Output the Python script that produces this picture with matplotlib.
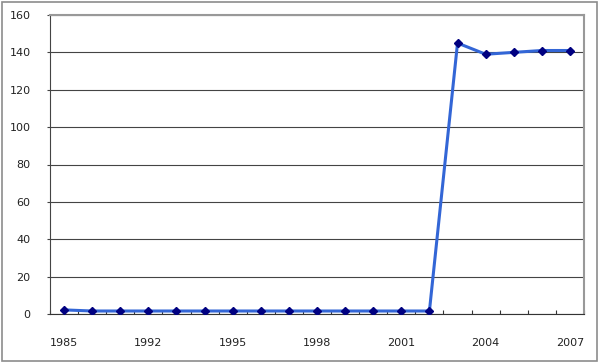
import matplotlib
matplotlib.use("Agg")
import matplotlib.pyplot as plt
from matplotlib.patches import Rectangle

years = [1985] + list(range(1990, 2008))
values = [2.2, 1.6, 1.6, 1.6, 1.6, 1.6, 1.6, 1.6, 1.6, 1.6, 1.6, 1.6, 1.6, 1.6,
          145, 139, 140, 141, 141]
label_years = [1985, 1992, 1995, 1998, 2001, 2004, 2007]
y_ticks = [0, 20, 40, 60, 80, 100, 120, 140, 160]

fig = plt.figure(figsize=(6, 3.62), dpi=100)
ax = fig.add_axes([50 / 600, 1 - 314 / 362, 534 / 600, 299 / 362])

# outer chart border
fig.patches.append(Rectangle((0.003, 0.004), 0.992, 0.99, transform=fig.transFigure,
                             fill=False, edgecolor="#8c8c8c", linewidth=1.2))

pos = list(range(len(years)))
ax.plot(pos, values, color="#3366d6", linewidth=2.2, marker="D", markersize=4.5,
        markerfacecolor="#000080", markeredgecolor="#000080", zorder=3)

ax.set_xlim(-0.5, len(years) - 0.5)
ax.set_ylim(0, 160)
ax.set_yticks(y_ticks)
ax.set_yticklabels([str(v) for v in y_ticks], fontsize=8, color="#222222")
ax.tick_params(axis="y", length=2, pad=12, color="#444444")

# boundary ticks between categories, labels centered on categories
ax.set_xticks([p - 0.5 for p in pos] + [len(years) - 0.5])
ax.set_xticklabels([])
ax.tick_params(axis="x", which="major", direction="in", length=3, color="#333333")
ax.set_xticks([years.index(y) for y in label_years], minor=True)
ax.set_xticklabels([str(y) for y in label_years], minor=True, fontsize=8, color="#222222")
ax.tick_params(axis="x", which="minor", length=0, pad=17)

ax.grid(axis="y", color="#444444", linewidth=0.8)
ax.set_axisbelow(True)
ax.spines["top"].set_color("#999999")
ax.spines["top"].set_linewidth(1.5)
ax.spines["right"].set_color("#999999")
ax.spines["right"].set_linewidth(1.5)
ax.spines["left"].set_color("#444444")
ax.spines["bottom"].set_color("#333333")

fig.savefig("out.png", dpi=100)
